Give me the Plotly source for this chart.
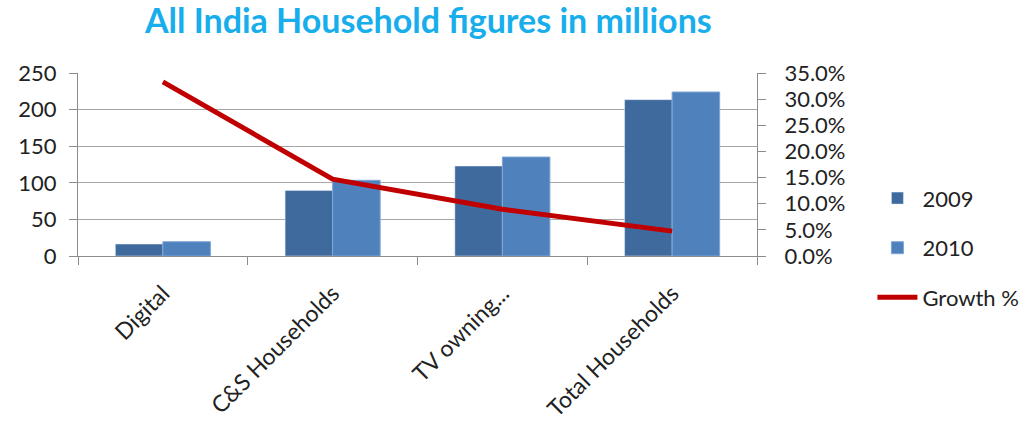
import plotly.graph_objects as go

categories = ["Digital", "C&S Households", "TV owning...", "Total Households"]
values_2009 = [16.3, 89.4, 122.9, 213.6]
values_2010 = [19.5, 103.4, 135.2, 224.0]
growth = [0.333, 0.147, 0.0895, 0.0476]

left_ticks = [0, 50, 100, 150, 200, 250]
right_ticks = [0, 0.05, 0.10, 0.15, 0.20, 0.25, 0.30, 0.35]

FONT = "Lato"
fig = go.Figure()
fig.add_trace(go.Bar(x=categories, y=values_2009, name="2009", marker_color="#3F6A9E",
                     legendgroup="a"))
fig.add_trace(go.Bar(x=categories, y=values_2010, name="2010", marker_color="#4F81BD",
                     marker_line=dict(color="#7EA6D6", width=1), legendgroup="b"))
fig.add_trace(go.Scatter(x=categories, y=growth, name="Growth %", yaxis="y2", mode="lines",
                         line=dict(color="#C00000", width=5), legendgroup="c"))

fig.update_layout(
    width=1036, height=429,
    margin=dict(l=78, r=276, t=73, b=173),
    paper_bgcolor="white", plot_bgcolor="white",
    font=dict(family=FONT, size=22, color="#222222"),
    title=dict(text="<b>All India Household figures in millions</b>",
               font=dict(family=FONT, size=34, color="#17AEEB"),
               x=0.516, xref="paper", xanchor="center", y=0.95, yanchor="middle"),
    barmode="group", bargap=0.44, bargroupgap=0,
    xaxis=dict(type="category", showgrid=False, showline=True, linecolor="#8C8C8C",
               ticks="outside", tickson="boundaries", ticklen=8, tickcolor="#8C8C8C",
               tickangle=-45, tickfont=dict(size=23), range=[-0.5, 3.5],
               ticklabelstandoff=14, automargin=False),
    yaxis=dict(range=[0, 250], tickvals=left_ticks, showgrid=True, gridcolor="#A6A6A6",
               gridwidth=1, showline=True, linecolor="#8C8C8C", ticks="outside", ticklen=8,
               tickcolor="#8C8C8C", tickfont=dict(size=22), zeroline=False,
               ticklabelstandoff=8, automargin=False),
    yaxis2=dict(range=[0, 0.35], tickvals=right_ticks, tickformat=".1%", overlaying="y",
                side="right", showgrid=False, showline=True, linecolor="#8C8C8C",
                ticks="outside", ticklen=8, tickcolor="#8C8C8C", tickfont=dict(size=22),
                zeroline=False, ticklabelstandoff=14, automargin=False),
    legend=dict(x=1.17, xanchor="left", y=0.43, yanchor="top", tracegroupgap=18,
                font=dict(size=22), bgcolor="rgba(0,0,0,0)", itemwidth=40),
)

fig.write_html("out.html")
